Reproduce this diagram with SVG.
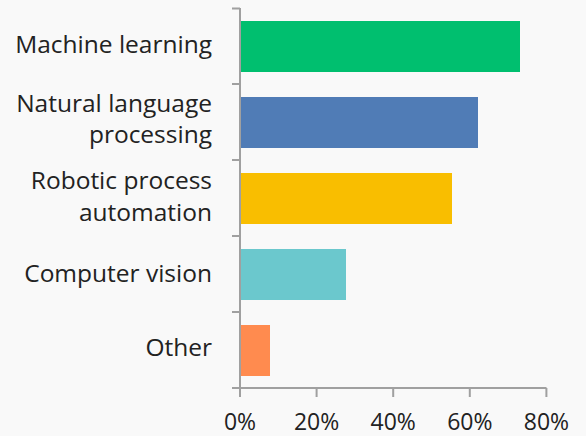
<svg xmlns="http://www.w3.org/2000/svg" width="586" height="436" viewBox="0 0 586 436">
<style>
.lbl{font-family:"Open Sans","Noto Sans",sans-serif;font-size:24.5px;fill:#222;text-anchor:end}
.tk{font-family:"Open Sans","Noto Sans",sans-serif;font-size:23px;fill:#222;text-anchor:middle}
.ax{stroke:#a0a0a0;stroke-width:2;fill:none}
</style>
<rect width="586" height="436" fill="#f9f9f9"/>
<g id="axes">
<path class="ax" d="M240 8V388M232 8.5H240M232 84H240M232 160H240M232 236H240M232 312H240M232 388H546.5M240 388V397M316.6 388V397M393.2 388V397M469.8 388V397M546.4 388V397"/>
</g>
<g id="bar-machine-learning"><rect x="241" y="21" width="279" height="51" fill="#00bf6f"/><text class="lbl" x="212" y="53">Machine learning</text></g>
<g id="bar-nlp"><rect x="241" y="97" width="237" height="51" fill="#507cb6"/><text class="lbl" x="212" y="112">Natural language</text><text class="lbl" x="212" y="143">processing</text></g>
<g id="bar-rpa"><rect x="241" y="173" width="211" height="51" fill="#f9be00"/><text class="lbl" x="212" y="188.5">Robotic process</text><text class="lbl" x="212" y="221">automation</text></g>
<g id="bar-cv"><rect x="241" y="249" width="105" height="51" fill="#6bc8cd"/><text class="lbl" x="212" y="281.5">Computer vision</text></g>
<g id="bar-other"><rect x="241" y="325" width="29" height="51" fill="#ff8b4f"/><text class="lbl" x="212" y="356">Other</text></g>
<g id="ticks">
<text class="tk" x="240" y="430">0%</text>
<text class="tk" x="316.6" y="430">20%</text>
<text class="tk" x="393.2" y="430">40%</text>
<text class="tk" x="469.8" y="430">60%</text>
<text class="tk" x="546.4" y="430">80%</text>
</g>
</svg>
